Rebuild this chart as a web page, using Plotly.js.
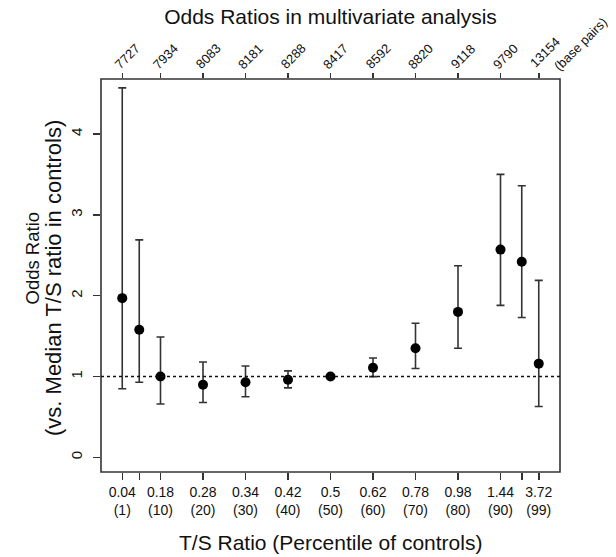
<!DOCTYPE html>
<html>
<head>
<meta charset="utf-8">
<script src="https://cdn.plot.ly/plotly-3.0.1.min.js"></script>
<style>html,body{margin:0;padding:0;background:#fff;}#chart{width:616px;height:557px;}</style>
</head>
<body>
<div id="chart"></div>
<script>
// Percentile positions of the controls
const percentiles = [1, 5, 10, 20, 30, 40, 50, 60, 70, 80, 90, 95, 99];
// Odds ratios and 95% CI
const oddsRatio = [1.97, 1.58, 1.00, 0.90, 0.93, 0.96, 1.00, 1.11, 1.35, 1.80, 2.57, 2.42, 1.16];
const ciLower   = [0.85, 0.93, 0.66, 0.68, 0.75, 0.86, 1.00, 1.00, 1.10, 1.35, 1.88, 1.73, 0.63];
const ciUpper   = [4.57, 2.69, 1.49, 1.18, 1.13, 1.07, 1.00, 1.23, 1.66, 2.37, 3.50, 3.36, 2.19];
// Bottom tick labels (T/S ratio and percentile)
const tsRatioLabels = ['0.04', '', '0.18', '0.28', '0.34', '0.42', '0.5', '0.62', '0.78', '0.98', '1.44', '', '3.72'];
const pctLabels     = ['(1)', '', '(10)', '(20)', '(30)', '(40)', '(50)', '(60)', '(70)', '(80)', '(90)', '', '(99)'];
// Top tick labels (telomere length, base pairs)
const topTickVals = [1, 10, 20, 30, 40, 50, 60, 70, 80, 90, 99];
const basePairLabels = ['7727', '7934', '8083', '8181', '8288', '8417', '8592', '8820', '9118', '9790', '13154'];
const yTicks = [0, 1, 2, 3, 4];

const FONT = 'Liberation Sans, Arial, Helvetica, sans-serif';
const bottomText = tsRatioLabels.map((t, i) => t ? t + '<br>' + pctLabels[i] : '');

// plot area in pixels: left 101, right 560, top 79, bottom 472
const PH = 393;
const py = (pix) => (472 - pix) / PH;

const trace = {
  x: percentiles, y: oddsRatio, type: 'scatter', mode: 'markers',
  marker: {color: '#000', size: 10},
  error_y: {type: 'data', symmetric: false,
    array: ciUpper.map((u, i) => u - oddsRatio[i]),
    arrayminus: ciLower.map((l, i) => oddsRatio[i] - l),
    color: '#333', thickness: 1.6, width: 4},
  hoverinfo: 'x+y',
  showlegend: false
};
const topTrace = {x: topTickVals, y: topTickVals.map(() => null), xaxis: 'x2', yaxis: 'y', type: 'scatter', mode: 'markers', showlegend: false, hoverinfo: 'skip'};

// top axis labels, rotated 45 degrees like the reference
const topLabelAnnotations = topTickVals.map((v, i) => {
  const long = basePairLabels[i].length > 4;
  return {
    text: basePairLabels[i], xref: 'x', yref: 'paper', x: v, y: py(long ? 52.5 : 56.5),
    xshift: long ? 6 : 5,
    xanchor: 'center', yanchor: 'middle', textangle: -45, showarrow: false,
    font: {size: 13, family: FONT, color: '#111'}
  };
});

const layout = {
  width: 616, height: 557,
  margin: {l: 101, r: 56, t: 79, b: 85},
  paper_bgcolor: '#fff', plot_bgcolor: '#fff',
  font: {family: FONT, color: '#111', size: 14},
  title: {text: 'Odds Ratios in multivariate analysis', font: {size: 21, family: FONT, color: '#111'},
          x: 0.5, xref: 'paper', xanchor: 'center', y: 1 - 17 / 557, yref: 'container', yanchor: 'middle'},
  xaxis: {range: [-4, 104], showgrid: false, zeroline: false,
    tickmode: 'array', tickvals: percentiles, ticktext: bottomText,
    ticks: 'outside', ticklen: 7, tickwidth: 1.5, tickcolor: '#333',
    tickfont: {size: 14, family: FONT, color: '#111'}, showline: false},
  xaxis2: {range: [-4, 104], overlaying: 'x', side: 'top', anchor: 'y', showgrid: false, zeroline: false,
    tickmode: 'array', tickvals: topTickVals, ticktext: basePairLabels, showticklabels: false,
    ticks: 'outside', ticklen: 5, tickwidth: 1.5, tickcolor: '#333', showline: false},
  yaxis: {range: [-0.18, 4.68], showgrid: false, zeroline: false,
    tickmode: 'array', tickvals: yTicks, ticktext: yTicks.map(String), tickangle: -90,
    ticks: 'outside', ticklen: 7, tickwidth: 1.5, tickcolor: '#333', ticklabelstandoff: 5,
    tickfont: {size: 15, family: FONT, color: '#111'}, showline: false},
  shapes: [
    {type: 'rect', xref: 'paper', yref: 'paper', x0: 0, x1: 1, y0: 0, y1: 1, line: {color: '#333', width: 1.6}},
    {type: 'line', xref: 'paper', yref: 'y', x0: 0, x1: 1, y0: 1, y1: 1, line: {color: '#111', width: 1.5, dash: 'dot'}}
  ],
  annotations: [
    {text: 'T/S Ratio (Percentile of controls)', xref: 'paper', yref: 'paper', x: 0.5, y: py(542.7),
     xanchor: 'center', yanchor: 'middle', showarrow: false, font: {size: 21, family: FONT, color: '#111'}},
    {text: 'Odds Ratio', xref: 'paper', yref: 'paper', x: -(101 - 31.5) / 459, y: py(258),
     xanchor: 'center', yanchor: 'middle', textangle: -90, showarrow: false, font: {size: 18.5, family: FONT, color: '#111'}},
    {text: '(vs. Median T/S ratio in controls)', xref: 'paper', yref: 'paper', x: -(101 - 53.5) / 459, y: py(278.5),
     xanchor: 'center', yanchor: 'middle', textangle: -90, showarrow: false, font: {size: 22, family: FONT, color: '#111'}},
    {text: '(base pairs)', xref: 'paper', yref: 'paper', x: (580 - 101) / 459, y: py(44),
     xanchor: 'center', yanchor: 'middle', textangle: -45, showarrow: false, font: {size: 13, family: FONT, color: '#111'}}
  ].concat(topLabelAnnotations)
};

Plotly.newPlot('chart', [trace, topTrace], layout, {displayModeBar: false, staticPlot: true});
</script>
</body>
</html>
